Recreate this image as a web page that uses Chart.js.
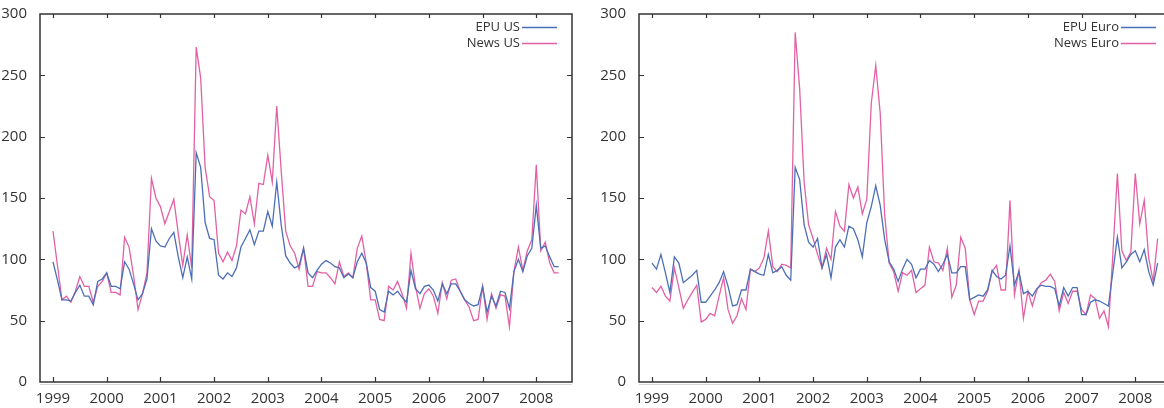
<!DOCTYPE html>
<html>
<head>
<meta charset="utf-8">
<script src="https://cdn.jsdelivr.net/npm/chart.js@4.4.1/dist/chart.umd.min.js"></script>
<style>
  html, body { margin: 0; padding: 0; background: #fff; overflow: hidden; }
  body { width: 1164px; height: 408px; position: relative; }
  .panel { position: absolute; top: 0; }
</style>
</head>
<body>
<div class="panel" style="left:0px"><canvas id="chart-us" width="574" height="408"></canvas></div>
<div class="panel" style="left:599px"><canvas id="chart-euro" width="574" height="408"></canvas></div>
<script>
// monthly index values, Jan 1999 - Jun 2008
const startYear = 1999;
const yearTicks = [1999, 2000, 2001, 2002, 2003, 2004, 2005, 2006, 2007, 2008];
const valueTicks = [0, 50, 100, 150, 200, 250, 300];

const epuUS = [
  98, 83, 67, 67, 66, 73, 79, 70, 70, 63, 82, 84,
  89, 78, 78, 76, 98, 92, 80, 67, 72, 84, 125, 115,
  111, 110, 117, 122, 102, 85, 102, 84, 187, 175, 130, 117,
  116, 87, 84, 89, 86, 93, 110, 117, 124, 112, 123, 123,
  139, 127, 163, 128, 103, 97, 93, 95, 109, 89, 85, 91,
  96, 99, 97, 94, 93, 85, 88, 85, 98, 105, 97, 77,
  74, 59, 57, 74, 71, 74, 69, 65, 91, 76, 72, 78,
  79, 75, 66, 80, 72, 80, 80, 74, 67, 64, 62, 63,
  78, 57, 70, 62, 74, 73, 60, 90, 100, 90, 103, 109,
  144, 109, 111, 102, 94, 94
];
const newsUS = [
  123, 95, 67, 70, 65, 74, 86, 78, 78, 65, 78, 82,
  89, 73, 73, 71, 118, 110, 87, 59, 72, 89, 166, 150,
  143, 129, 139, 149, 121, 95, 120, 93, 273, 248, 175, 151,
  148, 105, 98, 106, 99, 111, 140, 137, 151, 129, 162, 161,
  185, 163, 225, 172, 123, 111, 105, 92, 109, 78, 78, 90,
  89, 89, 85, 80, 98, 86, 89, 85, 109, 119, 97, 67,
  67, 51, 50, 78, 75, 82, 72, 60, 105, 78, 60, 72,
  76, 70, 56, 81, 68, 83, 84, 74, 67, 61, 50, 51,
  78, 51, 72, 60, 71, 70, 45, 90, 110, 91, 107, 116,
  177, 107, 114, 97, 89, 89
];
const epuEuro = [
  97, 92, 104, 89, 73, 102, 97, 81, 84, 87, 91, 65,
  65, 70, 75, 81, 90, 78, 62, 63, 75, 75, 92, 90,
  88, 87, 104, 89, 91, 94, 87, 83, 175, 165, 128, 114,
  110, 117, 93, 104, 85, 110, 116, 110, 127, 125, 116, 102,
  130, 143, 160, 144, 116, 98, 92, 82, 92, 100, 96, 85,
  92, 92, 99, 96, 90, 96, 104, 89, 89, 94, 94, 67,
  69, 71, 70, 75, 91, 86, 84, 87, 111, 79, 90, 72,
  74, 70, 76, 79, 78, 78, 76, 62, 77, 70, 77, 77,
  55, 55, 65, 67, 66, 64, 62, 90, 118, 93, 98, 104,
  107, 98, 108, 90, 79, 97
];
const newsEuro = [
  77, 73, 78, 70, 66, 93, 77, 60, 67, 73, 79, 49,
  51, 56, 54, 70, 85, 59, 48, 54, 68, 59, 92, 90,
  93, 101, 123, 94, 90, 96, 95, 93, 285, 239, 163, 128,
  117, 104, 93, 109, 100, 139, 127, 123, 161, 150, 159, 137,
  149, 227, 258, 219, 136, 97, 90, 74, 89, 87, 91, 73,
  76, 79, 110, 98, 97, 91, 109, 69, 79, 118, 109, 67,
  55, 66, 66, 74, 90, 95, 75, 75, 148, 71, 91, 52,
  74, 62, 75, 81, 83, 88, 82, 58, 73, 64, 74, 74,
  59, 55, 71, 68, 52, 58, 45, 105, 170, 107, 99, 106,
  170, 129, 148, 101, 82, 117
];

const blue = '#4b6fb6';
const pink = '#e261a4';
const ink = '#333333';
const fontFamily = '"Open Sans", "Noto Sans", sans-serif';

function toPoints(values) {
  return values.map((v, i) => ({ x: startYear + i / 12, y: v }));
}

// box, inward ticks and the right-aligned legend
const framePlugin = {
  id: 'frame',
  afterDraw(chart) {
    const { ctx, chartArea: a, scales: { x, y } } = chart;
    ctx.save();
    ctx.strokeStyle = ink;
    ctx.lineWidth = 1.5;
    ctx.strokeRect(a.left, a.top, a.right - a.left, a.bottom - a.top);
    ctx.strokeStyle = '#d8d8d8';
    ctx.lineWidth = 1;
    ctx.beginPath();
    ctx.moveTo(a.left, a.bottom + 2.5);
    ctx.lineTo(a.right, a.bottom + 2.5);
    ctx.stroke();

    ctx.strokeStyle = ink;
    ctx.lineWidth = 1.2;
    ctx.beginPath();
    x.ticks.forEach(t => {
      const px = Math.round(x.getPixelForValue(t.value)) + 0.5;
      ctx.moveTo(px, a.bottom); ctx.lineTo(px, a.bottom - 5);
      ctx.moveTo(px, a.top); ctx.lineTo(px, a.top + 4);
    });
    y.ticks.forEach(t => {
      if (t.value <= 0 || t.value >= 300) return;
      const py = Math.round(y.getPixelForValue(t.value)) + 0.5;
      ctx.moveTo(a.left, py); ctx.lineTo(a.left + 5, py);
      ctx.moveTo(a.right, py); ctx.lineTo(a.right - 5, py);
    });
    ctx.stroke();

    ctx.font = '13px ' + fontFamily;
    ctx.textAlign = 'right';
    ctx.textBaseline = 'middle';
    chart.data.datasets.forEach((ds, i) => {
      const ly = a.top + 13 + i * 16;
      ctx.fillStyle = ink;
      ctx.fillText(ds.label, a.right - 52, ly);
      ctx.strokeStyle = ds.borderColor;
      ctx.lineWidth = 1.5;
      ctx.beginPath();
      ctx.moveTo(a.right - 50, ly + 0.5);
      ctx.lineTo(a.right - 15, ly + 0.5);
      ctx.stroke();
    });
    ctx.restore();
  }
};

function makeChart(id, epuLabel, epuData, newsLabel, newsData) {
  return new Chart(document.getElementById(id), {
    type: 'line',
    data: {
      datasets: [
        { label: epuLabel, data: toPoints(epuData), borderColor: blue, borderWidth: 1.3 },
        { label: newsLabel, data: toPoints(newsData), borderColor: pink, borderWidth: 1.3 }
      ]
    },
    options: {
      responsive: false,
      animation: false,
      devicePixelRatio: 1,
      layout: { padding: { top: 13, right: 2, left: 0, bottom: 0 } },
      elements: { point: { radius: 0 }, line: { tension: 0 } },
      plugins: { legend: { display: false }, tooltip: { enabled: false } },
      scales: {
        x: {
          type: 'linear',
          min: 1998.758,
          max: 2008.665,
          grid: { display: false },
          border: { display: false },
          afterBuildTicks: scale => { scale.ticks = yearTicks.map(v => ({ value: v })); },
          afterFit: scale => { scale.height = 26; },
          ticks: {
            autoSkip: false,
            maxRotation: 0,
            padding: 0,
            color: ink,
            font: { family: fontFamily, size: 15 },
            callback: v => String(v)
          }
        },
        y: {
          min: 0,
          max: 300,
          grid: { display: false },
          border: { display: false },
          afterBuildTicks: scale => { scale.ticks = valueTicks.map(v => ({ value: v })); },
          afterFit: scale => { scale.width = 40; },
          ticks: {
            padding: 5,
            color: ink,
            font: { family: fontFamily, size: 15 },
            callback: v => String(v)
          }
        }
      }
    },
    plugins: [framePlugin]
  });
}

makeChart('chart-us', 'EPU US', epuUS, 'News US', newsUS);
makeChart('chart-euro', 'EPU Euro', epuEuro, 'News Euro', newsEuro);
</script>
</body>
</html>
